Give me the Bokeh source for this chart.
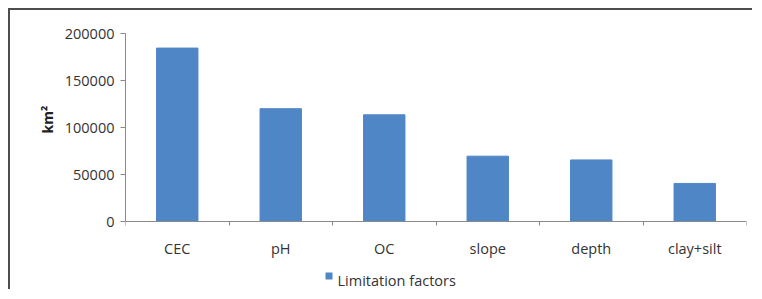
from bokeh.plotting import figure
from bokeh.models import (ColumnDataSource, Range1d, FixedTicker, Label, BoxAnnotation,
                          BasicTickFormatter, LinearAxis, Title)
from bokeh.embed import file_html
from bokeh.resources import INLINE

categories = ["CEC", "pH", "OC", "slope", "depth", "clay+silt"]
values = [184500, 120000, 113500, 69500, 65500, 40500]
series_name = "Limitation factors"
y_label = "km²"
y_ticks = [0, 50000, 100000, 150000, 200000]
y_max = 200000

xpos = [i + 0.5 for i in range(len(categories))]
src = ColumnDataSource(dict(x=xpos, top=values, cat=categories))

FONT = "Open Sans"
TXT = "#333333"
AX = "#8a8a8a"
BAR = "#4F86C6"

# frame: 258 px tall; value axis spans 188 px (0..200000), the rest is room below zero
FRAME_H = 258
AXIS_H = 188
y_min = -y_max * (FRAME_H - AXIS_H) / AXIS_H

p = figure(width=744, height=281, output_backend="svg", toolbar_location=None,
           x_range=Range1d(0, len(categories)), y_range=Range1d(y_min, y_max),
           x_axis_location=None,
           min_border_left=115, min_border_top=23, min_border_right=8, min_border_bottom=0,
           background_fill_color="white", border_fill_color="white")
p.styles = {"border-left": "2px solid #4d4d4d", "border-top": "2px solid #4d4d4d",
            "margin-left": "8px", "margin-top": "8px"}
p.outline_line_color = None
p.grid.grid_line_color = None

r = p.vbar(x="x", top="top", width=0.4, source=src, fill_color=BAR, line_color=BAR)

# x axis, pinned at y = 0
xa = LinearAxis(fixed_location=0)
xa.ticker = FixedTicker(ticks=xpos, minor_ticks=list(range(len(categories) + 1)))
xa.major_label_overrides = {x: c for x, c in zip(xpos, categories)}
xa.major_tick_out = 0
xa.major_tick_in = 0
xa.minor_tick_out = 4
xa.minor_tick_in = 0
xa.minor_tick_line_color = AX
xa.axis_line_color = AX
xa.major_label_standoff = 13
xa.major_label_text_font = FONT
xa.major_label_text_font_size = "14.5px"
xa.major_label_text_color = TXT
p.add_layout(xa, "below")

# y axis
ya = p.yaxis[0]
ya.bounds = (0, y_max)
ya.ticker = FixedTicker(ticks=y_ticks)
ya.formatter = BasicTickFormatter(use_scientific=False)
ya.major_tick_out = 5
ya.major_tick_in = 0
ya.minor_tick_line_color = None
ya.major_tick_line_color = AX
ya.axis_line_color = AX
ya.major_label_standoff = 6
ya.major_label_text_font = FONT
ya.major_label_text_font_size = "14.5px"
ya.major_label_text_color = TXT

# y axis title, placed along the value axis part of the frame
p.add_layout(Title(text=y_label, align="left", offset=158, standoff=10,
                   text_font=FONT, text_font_size="14px", text_font_style="bold",
                   text_color="#222222"), "left")

# legend (annotations in frame-relative screen units)
p.add_layout(Label(x=212, y=11, x_units="screen", y_units="screen", text=series_name,
                   text_font=FONT, text_font_size="14.5px", text_color=TXT,
                   text_baseline="middle", text_align="left"))
p.add_layout(BoxAnnotation(left=200, right=207, bottom=12, top=19,
                           left_units="screen", right_units="screen",
                           bottom_units="screen", top_units="screen",
                           fill_color=BAR, fill_alpha=1, line_color=None))

open("out.html", "w").write(file_html(p, INLINE))
